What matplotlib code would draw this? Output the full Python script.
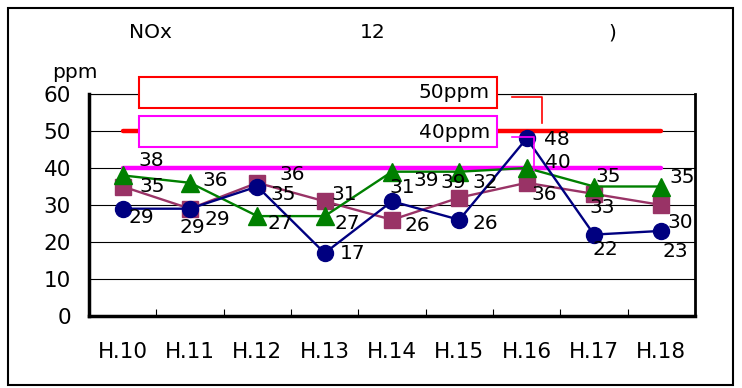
import numpy as np
import matplotlib
matplotlib.use('Agg')
from matplotlib import pyplot as plt
from matplotlib.patches import Rectangle
from matplotlib.lines import Line2D

plt.rcParams['font.family'] = ['DejaVu Sans', 'Noto Sans CJK JP']

years = ['H.10', 'H.11', 'H.12', 'H.13', 'H.14', 'H.15', 'H.16', 'H.17', 'H.18']
blue = [29, 29, 35, 17, 31, 26, 48, 22, 23]
purple = [35, 29, 36, 31, 26, 32, 36, 33, 30]
green = [38, 36, 27, 27, 39, 39, 40, 35, 35]
std50 = [50] * 9
std40 = [40] * 9

# label offsets in pixels (dx, dy) -- placed by hand like the original
off_blue = [(19, -9), (2, -19), (26, -8), (28, 0), (10, 14), (26, -4), (30, -1), (11, -15), (14, -21)]
off_purple = [(30, 0), (27, -11), (35, 8), (20, 7), (25, -6), (26, 15), (18, -12), (8, -14), (19, -17)]
off_green = [(29, 15), (25, 2), (23, -7), (23, -7), (34, -9), (-6, -11), (31, 5), (14, 10), (21, 9)]

W, H = 742, 388
fig = plt.figure(figsize=(W / 100, H / 100), dpi=100)

def fx(px):
    return px / W

def fy(py):
    return 1 - py / H

ax = fig.add_axes([fx(89), fy(316), fx(695) - fx(89), fy(94) - fy(316)])
x = np.arange(len(years))

ax.plot(x, std50, color='#FF0000', lw=3.2, solid_capstyle='round', zorder=2)
ax.plot(x, std40, color='#FF00FF', lw=3.2, solid_capstyle='round', zorder=2)
ax.plot(x, purple, color='#993366', lw=1.7, marker='s', ms=11.5, zorder=3)
ax.plot(x, green, color='#008000', lw=1.7, marker='^', ms=12.5, zorder=4)
ax.plot(x, blue, color='#000080', lw=1.7, marker='o', ms=11.5, zorder=5)

def labels(vals, offs):
    for i, (v, o) in enumerate(zip(vals, offs)):
        ax.annotate(str(v), xy=(i, v), xytext=o, textcoords='offset pixels',
                    ha='center', va='center', fontsize=14.5, zorder=6,
                    annotation_clip=False)

labels(blue, off_blue)
labels(purple, off_purple)
labels(green, off_green)

ax.set_xlim(-0.5, 8.5)
ax.set_ylim(0, 60)
ax.set_yticks(np.arange(0, 61, 10))
ax.yaxis.grid(True, color='black', lw=0.8)
ax.set_axisbelow(True)
ax.set_xticks(x)
ax.set_xticklabels(years)
ax.set_xticks(np.arange(0.5, 8, 1), minor=True)
ax.tick_params(axis='x', which='major', length=0, pad=19, labelsize=15.5)
ax.tick_params(axis='x', which='minor', direction='in', length=5, width=0.8)
ax.tick_params(axis='y', length=0, pad=13, labelsize=15.5)
for s in ['left', 'bottom']:
    ax.spines[s].set_linewidth(2.5)
ax.spines['right'].set_linewidth(2)
ax.spines['top'].set_linewidth(0.8)

# legend-like boxes
fig.patches.append(Rectangle((fx(139), fy(108)), fx(497) - fx(139), fy(77) - fy(108),
                             transform=fig.transFigure, fill=True, facecolor='white',
                             edgecolor='#FF0000', lw=1.5, zorder=10))
fig.patches.append(Rectangle((fx(139), fy(147)), fx(497) - fx(139), fy(116) - fy(147),
                             transform=fig.transFigure, fill=True, facecolor='white',
                             edgecolor='#FF00FF', lw=1.5, zorder=10))
fig.text(fx(490), fy(93), '50ppm', ha='right', va='center', fontsize=14.5, zorder=11)
fig.text(fx(490), fy(132), '40ppm', ha='right', va='center', fontsize=14.5, zorder=11)
fig.lines.append(Line2D([fx(512), fx(542), fx(542)], [fy(97), fy(97), fy(123)],
                        transform=fig.transFigure, color='#FF0000', lw=1.2))
fig.lines.append(Line2D([fx(512), fx(534), fx(534)], [fy(137), fy(137), fy(170)],
                        transform=fig.transFigure, color='#FF00FF', lw=1.2))

# title pieces (the rest of the original title did not render)
fig.text(fx(150), fy(33), 'NOx', ha='center', va='center', fontsize=14.5)
fig.text(fx(373), fy(33), '12', ha='center', va='center', fontsize=14.5)
fig.text(fx(612), fy(33), ')', ha='center', va='center', fontsize=14.5)
fig.text(fx(75), fy(72), 'ppm', ha='center', va='center', fontsize=14.5)

# outer frame
fig.patches.append(Rectangle((fx(8), fy(385)), fx(733) - fx(8), fy(8) - fy(385),
                             transform=fig.transFigure, fill=False,
                             edgecolor='black', lw=1.5))

plt.savefig('out.png', dpi=100)
